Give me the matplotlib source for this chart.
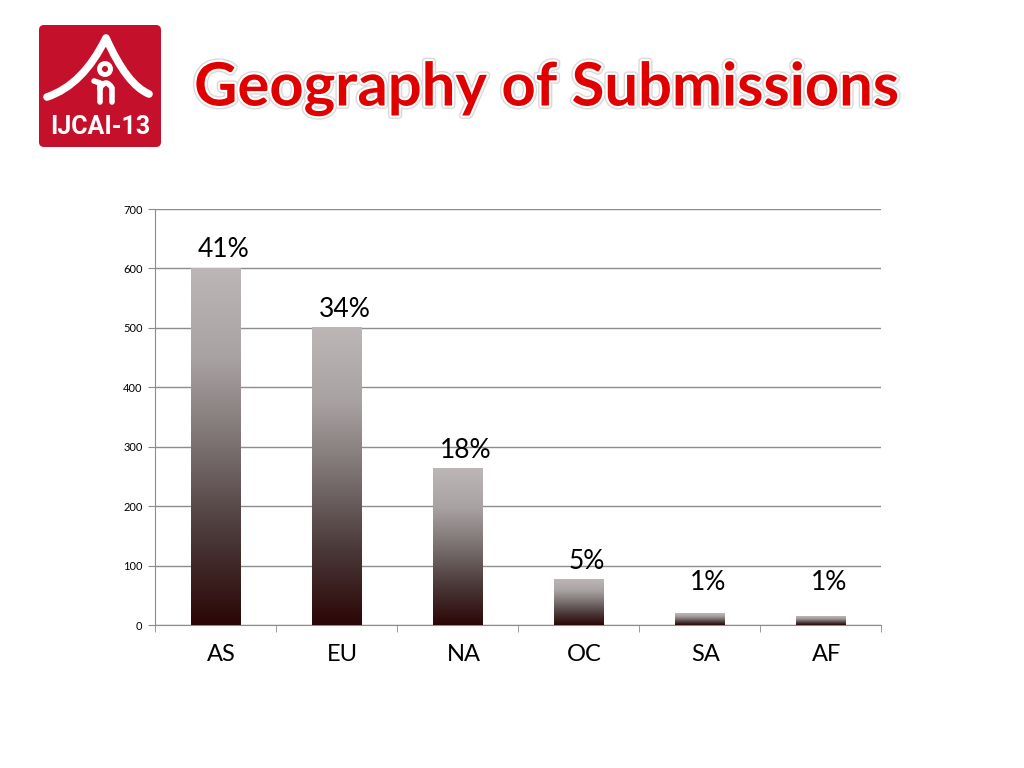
import numpy as np
import matplotlib
matplotlib.use('Agg')
import matplotlib.pyplot as plt
from matplotlib.colors import LinearSegmentedColormap
from matplotlib.patches import FancyBboxPatch, Circle, PathPatch
from matplotlib.path import Path
import matplotlib.patheffects as pe

# data
regions = ['AS', 'EU', 'NA', 'OC', 'SA', 'AF']
counts = [600, 500, 263, 76, 20, 15]
shares = ['41%', '34%', '18%', '5%', '1%', '1%']
yticks = [0, 100, 200, 300, 400, 500, 600, 700]

plt.rcParams['font.family'] = ['Lato', 'DejaVu Sans']

fig = plt.figure(figsize=(10.24, 7.68), dpi=100)
fig.patch.set_facecolor('white')

# bar gradient: dark red-brown at the base, light grey at the top
bar_cmap = LinearSegmentedColormap.from_list(
    'bar', ['#2c0606', '#4a3838', '#7a7070', '#a9a2a2', '#bdb6b6'])

ax = fig.add_axes([155 / 1024, 1 - 625 / 768, 726 / 1024, 416 / 768])
x = np.arange(len(regions))
width = 0.41
grad = np.linspace(0, 1, 256).reshape(-1, 1)
for xi, v in zip(x, counts):
    ax.imshow(grad, cmap=bar_cmap, origin='lower', aspect='auto',
              extent=(xi - width / 2, xi + width / 2, 0, v), zorder=3)

for xi, v, s in zip(x, counts, shares):
    ax.text(xi + 0.07, max(v, 40) + 10, s, ha='center', va='bottom',
            fontsize=19, color='black', zorder=4)

ax.set_xlim(-0.5, len(regions) - 0.5)
ax.set_ylim(0, 700)
ax.set_yticks(yticks)
ax.set_yticklabels([str(t) for t in yticks], fontsize=8)
ax.set_xticks(x + 0.05)
ax.set_xticklabels(regions, fontsize=17)
ax.set_xticks(np.arange(len(regions) + 1) - 0.5, minor=True)
ax.tick_params(axis='x', which='major', length=0, pad=14)
ax.tick_params(axis='x', which='minor', length=5, color='#8c8c8c', direction='out')
ax.tick_params(axis='y', length=5, color='#8c8c8c', direction='out', pad=4)
ax.yaxis.grid(True, color='#8c8c8c', linewidth=1)
ax.set_axisbelow(True)
for side in ['top', 'right']:
    ax.spines[side].set_visible(False)
for side in ['left', 'bottom']:
    ax.spines[side].set_color('#8c8c8c')

# title
fig.text(547 / 1024, 1 - 89 / 768, 'Geography of Submissions', ha='center', va='center',
         fontsize=43, fontweight='bold', color='#e00000',
         path_effects=[pe.Stroke(linewidth=5, foreground='#d9d9d9'),
                       pe.Stroke(linewidth=3, foreground='white'),
                       pe.Normal()])

# logo
lg = fig.add_axes([39 / 1024, 1 - 147 / 768, 122 / 1024, 122 / 768])
lg.set_xlim(0, 122)
lg.set_ylim(122, 0)
lg.axis('off')
lg.add_patch(FancyBboxPatch((0, 0), 122, 122, boxstyle='round,pad=0,rounding_size=5',
                            facecolor='#c5102b', edgecolor='none'))
roof = Path([(8, 72), (44, 60), (67, 13), (88, 60), (110, 69)],
            [Path.MOVETO, Path.CURVE3, Path.LINETO, Path.CURVE3, Path.LINETO])
lg.add_patch(PathPatch(roof, facecolor='none', edgecolor='white', linewidth=5.5,
                       capstyle='round', joinstyle='round'))
lg.add_patch(Circle((66, 44), 5.5, facecolor='none', edgecolor='white', linewidth=3.5))
body = Path([(55, 56), (61, 58), (61, 77), (61, 63), (67, 53), (73, 63), (73, 77)],
            [Path.MOVETO, Path.LINETO, Path.LINETO, Path.MOVETO, Path.CURVE3,
             Path.CURVE3, Path.LINETO])
lg.add_patch(PathPatch(body, facecolor='none', edgecolor='white', linewidth=4,
                       capstyle='round', joinstyle='round'))
lg.text(61, 102, 'IJCAI-13', ha='center', va='center', color='white',
        fontsize=18, fontweight='bold', fontstretch='condensed',
        family=['Roboto', 'DejaVu Sans'])

fig.savefig('out.png', dpi=100)
